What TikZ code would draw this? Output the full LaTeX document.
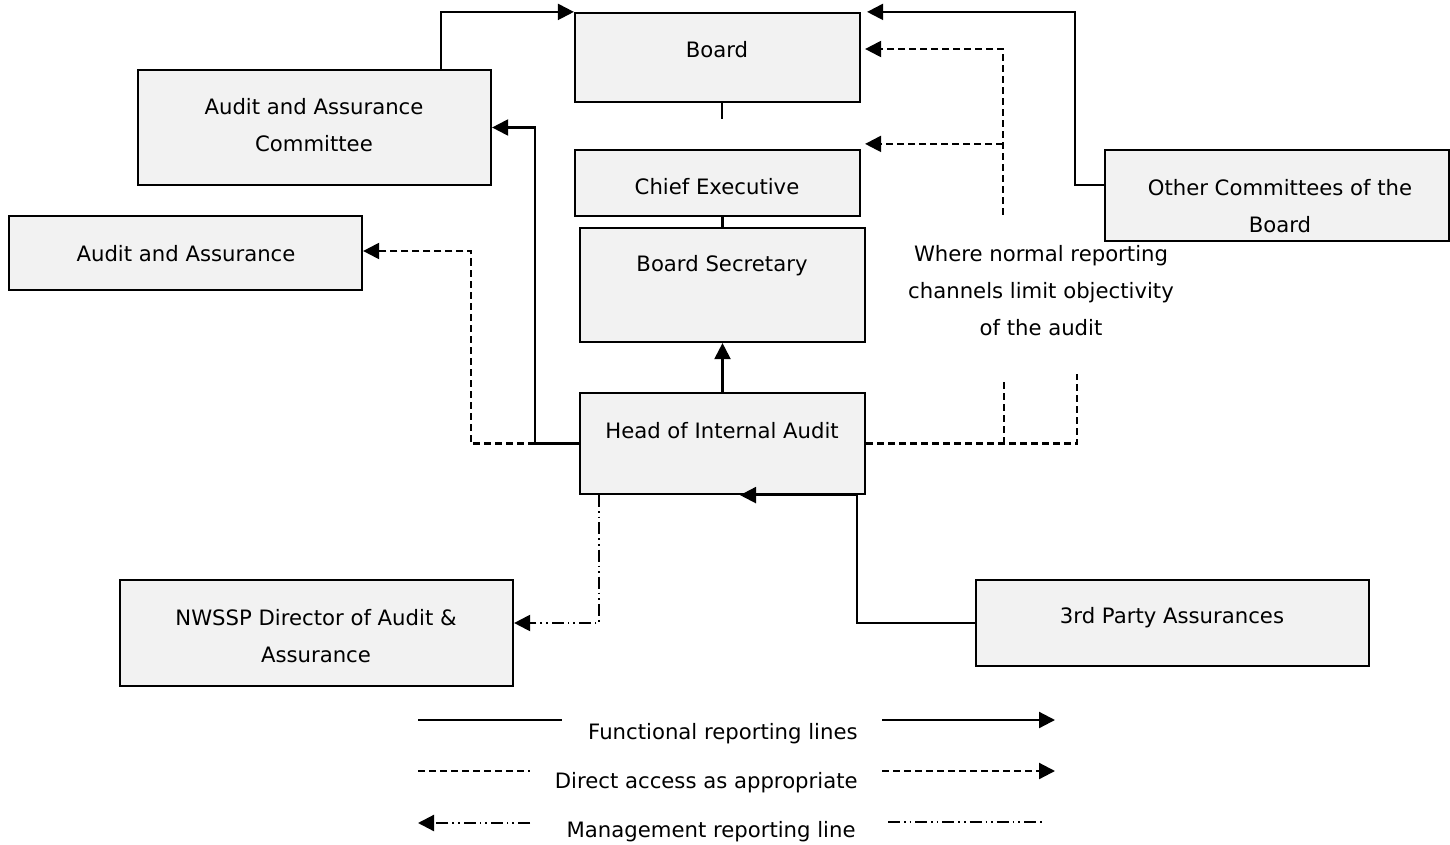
\documentclass[tikz,border=0pt]{standalone}
\usepackage{fontspec}
\setmainfont{DejaVu Sans}
\usetikzlibrary{arrows.meta,calc}
\definecolor{boxfill}{RGB}{242,242,242}
\begin{document}
\begin{tikzpicture}[x=0.5pt,y=-0.5pt,
  box/.style={draw, fill=boxfill, line width=1.1pt, inner sep=0pt},
  txt/.style={font=\fontsize{10.6pt}{18.5pt}\selectfont, align=center, inner sep=0pt},
  tip/.style={-{Triangle[length=8pt,width=8pt]}},
  func/.style={line width=1.1pt},
  dacc/.style={line width=1.1pt, dash pattern=on 3.5pt off 2pt},
  mgmt/.style={line width=1.1pt, dash pattern=on 6pt off 2pt on 0.8pt off 2pt on 0.8pt off 2pt}]
\useasboundingbox (0,0) rectangle (1450,845);
% boxes
\node[box, minimum width=142.5pt, minimum height=44.5pt] (board) at (717.5,57.5) {};
\node[box, minimum width=176.5pt, minimum height=57.5pt] (aac) at (314.5,127.5) {};
\node[box, minimum width=142.5pt, minimum height=33pt] (ce) at (717.5,183) {};
\node[box, minimum width=142.5pt, minimum height=57pt] (bs) at (722.5,285) {};
\node[box, minimum width=176.5pt, minimum height=37pt] (aa) at (185.5,253) {};
\node[box, minimum width=172pt, minimum height=45.5pt] (oc) at (1277,195.5) {};
\node[box, minimum width=142.5pt, minimum height=50.5pt] (hia) at (722.5,443.5) {};
\node[box, minimum width=196.5pt, minimum height=53pt] (nw) at (316.5,633) {};
\node[box, minimum width=196.5pt, minimum height=43pt] (tp) at (1172.5,623) {};
% texts
\node[txt] (tboard) at (717,50) {Board};
\node[txt] (taac) at (314,125.5) {Audit and Assurance\\Committee};
\node[txt] (tce) at (717,187) {Chief Executive};
\node[txt] (tbs) at (722,266) {Board Secretary};
\node[txt] (taa) at (186,254) {Audit and Assurance};
\begin{scope}
\clip (1105,150) rectangle (1450,240);
\node[txt] (toc) at (1280,206) {Other Committees of the\\Board};
\end{scope}
\node[txt] (twnr) at (1041,290.5) {Where normal reporting\\channels limit objectivity\\of the audit};
\node[txt] (thia) at (722,431) {Head of Internal Audit};
\node[txt] (tnw) at (316,636.5) {NWSSP Director of Audit \&\\Assurance};
\node[txt] (ttp) at (1172,618) {3rd Party Assurances};
% functional lines
\draw[func,tip] ([xshift=-25.5pt]aac.north east) |- (board.north west);
\draw[func,tip] ([yshift=5.25pt]oc.west) -- ++(-29,0) |- ([xshift=3pt]board.north east);
\draw[func] ([xshift=2.25pt]board.south) -- ++(0,16);
\draw[func] (bs.north) -- (bs.north |- ce.south);
\draw[func,tip] (hia.north) -- (bs.south);
\draw[func,tip] (hia.west) -- ++(-44,0) |- (aac.east);
\draw[func,tip] (tp.west) -- ++(-118,0) |- ([xshift=8.75pt]hia.south);
% direct access
\draw[dacc,tip] (hia.west) -- ++(-108,0) |- ([yshift=1pt]aa.east);
\draw[dacc] (hia.east) -- ++(211,0) -- ++(0,-70);
\draw[dacc] ([xshift=69pt]hia.east) -- ++(0,-65);
\coordinate (up) at (1003,215);
\coordinate (ceT) at ([xshift=2pt,yshift=2.5pt]ce.north east);
\draw[dacc,tip] (up) |- ([xshift=2pt,yshift=4.25pt]board.east);
\draw[dacc,tip] (up |- ceT) -- (ceT);
% management
\draw[mgmt,tip] ([xshift=10pt]hia.south west) |- ([yshift=5pt]nw.east);
% legend
\coordinate (l1a) at (418,720); \coordinate (l1b) at (562,720);
\coordinate (l1c) at (882,720); \coordinate (l1d) at (1055,720);
\coordinate (l2a) at (418,771); \coordinate (l2b) at (530,771);
\coordinate (l2c) at (882,771); \coordinate (l2d) at (1055,771);
\coordinate (l3a) at (418,823); \coordinate (l3b) at (530,823);
\coordinate (l3c) at (888,822); \coordinate (l3d) at (1045,822);
\draw[func] (l1a) -- (l1b);
\draw[func,tip] (l1c) -- (l1d);
\draw[dacc] (l2a) -- (l2b);
\draw[dacc,tip] (l2c) -- (l2d);
\draw[mgmt,tip] (l3b) -- (l3a);
\draw[mgmt] (l3c) -- (l3d);
\node[txt, anchor=east] (lg1) at (858,734) {Functional reporting lines};
\node[txt, anchor=east] (lg2) at (858,783) {Direct access as appropriate};
\node[txt, anchor=east] (lg3) at (856,832) {Management reporting line};
\end{tikzpicture}
\end{document}
